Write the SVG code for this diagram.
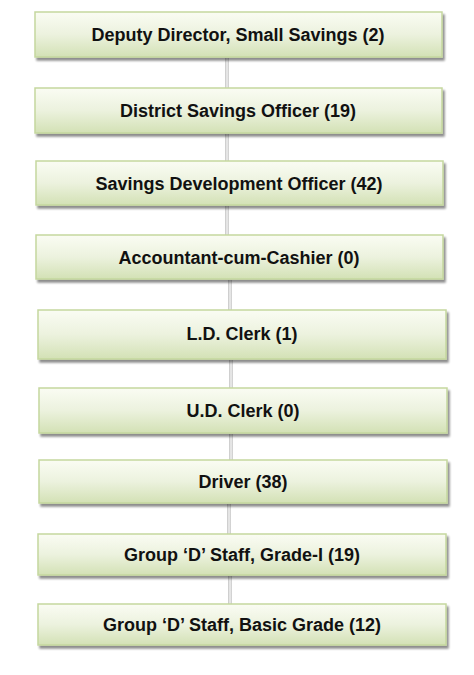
<svg xmlns="http://www.w3.org/2000/svg" width="474" height="675" viewBox="0 0 474 675">
<defs>
<linearGradient id="g" x1="0" y1="0" x2="0" y2="1">
<stop offset="0" stop-color="#fafcf3"/>
<stop offset="0.5" stop-color="#ecf2de"/>
<stop offset="1" stop-color="#d3e1b5"/>
</linearGradient>
<linearGradient id="c" x1="0" y1="0" x2="1" y2="0">
<stop offset="0" stop-color="#c4c4c4"/>
<stop offset="0.5" stop-color="#efefef"/>
<stop offset="1" stop-color="#c9c9c9"/>
</linearGradient>
<filter id="sh" x="-5%" y="-20%" width="110%" height="150%">
<feGaussianBlur in="SourceAlpha" stdDeviation="1"/>
<feOffset dx="2" dy="3"/>
<feComponentTransfer><feFuncA type="linear" slope="0.45"/></feComponentTransfer>
<feMerge><feMergeNode/><feMergeNode in="SourceGraphic"/></feMerge>
</filter>
</defs>
<style>
.b{fill:url(#g);stroke:#c5d79e;stroke-width:1.5;filter:url(#sh)}
.t{font-family:"Liberation Sans",Arial,sans-serif;font-weight:bold;font-size:18px;fill:#111;text-anchor:middle}
.k{fill:url(#c)}
</style>
<rect width="474" height="675" fill="#fff"/>
<g id="connectors">
<rect class="k" x="225" y="58" width="4" height="31"/>
<rect class="k" x="225" y="134" width="4" height="28"/>
<rect class="k" x="225" y="206" width="4" height="30"/>
<rect class="k" x="228" y="280" width="4" height="31"/>
<rect class="k" x="229" y="360" width="4" height="29"/>
<rect class="k" x="229" y="434" width="4" height="27"/>
<rect class="k" x="227" y="504" width="4" height="31"/>
<rect class="k" x="228" y="576" width="4" height="29"/>
</g>
<g id="n1"><rect class="b" x="35" y="12" width="407" height="45"/><text class="t" x="238" y="41">Deputy Director, Small Savings (2)</text></g>
<g id="n2"><rect class="b" x="35" y="88" width="407" height="45"/><text class="t" x="238" y="117">District Savings Officer (19)</text></g>
<g id="n3"><rect class="b" x="36" y="161" width="407" height="44"/><text class="t" x="239" y="189.5">Savings Development Officer (42)</text></g>
<g id="n4"><rect class="b" x="36" y="235" width="407" height="44"/><text class="t" x="239" y="263.5">Accountant-cum-Cashier (0)</text></g>
<g id="n5"><rect class="b" x="38" y="310" width="408" height="49"/><text class="t" x="242" y="340">L.D. Clerk (1)</text></g>
<g id="n6"><rect class="b" x="39" y="388" width="408" height="45"/><text class="t" x="243" y="417">U.D. Clerk (0)</text></g>
<g id="n7"><rect class="b" x="39" y="460" width="408" height="43"/><text class="t" x="243" y="488">Driver (38)</text></g>
<g id="n8"><rect class="b" x="38" y="534" width="408" height="41"/><text class="t" x="242" y="561">Group ‘D’ Staff, Grade-I (19)</text></g>
<g id="n9"><rect class="b" x="38" y="604" width="408" height="41"/><text class="t" x="242" y="631">Group ‘D’ Staff, Basic Grade (12)</text></g>
</svg>
